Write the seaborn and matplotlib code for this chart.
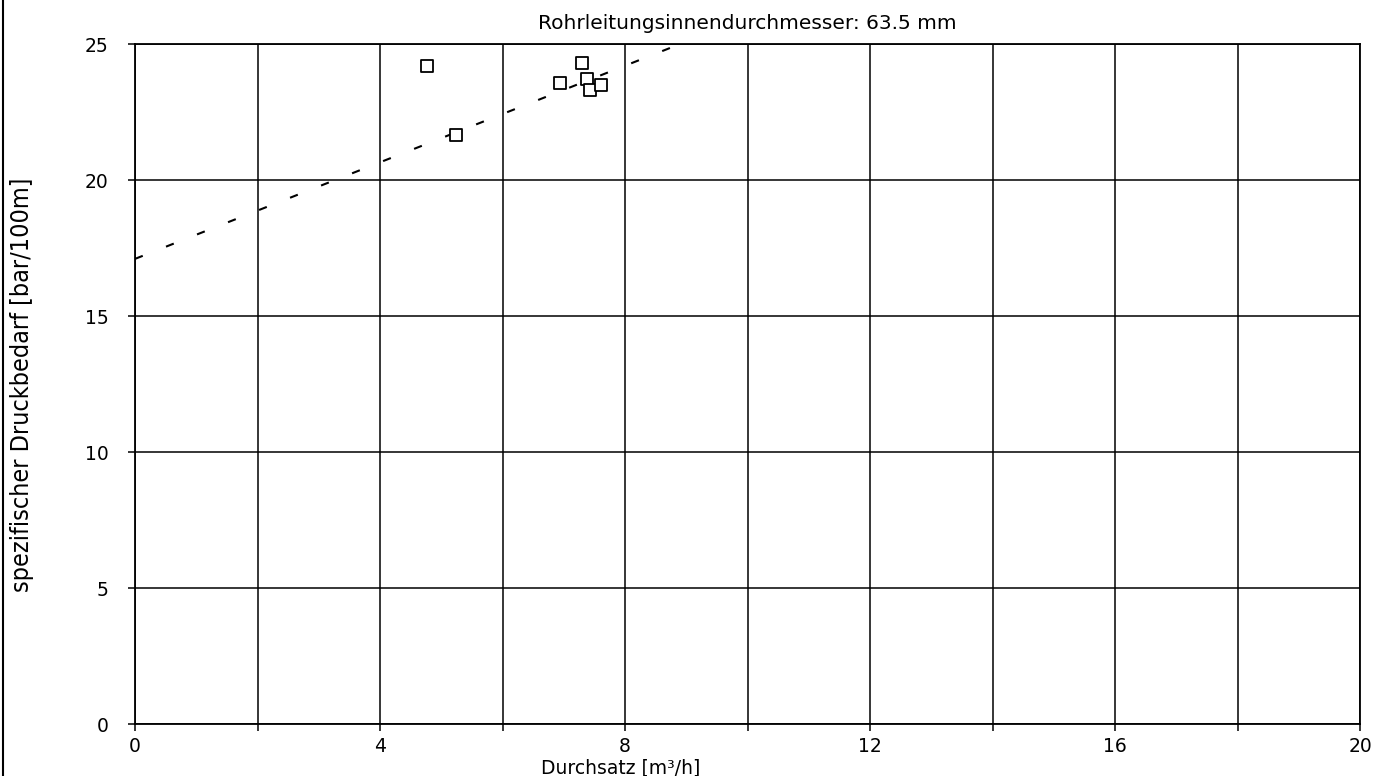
import matplotlib
matplotlib.use("Agg")
import matplotlib.pyplot as plt
import seaborn as sns
import pandas as pd
from matplotlib.lines import Line2D

# Data
durchsatz = [4.77, 5.24, 6.94, 7.29, 7.38, 7.43, 7.60]
druckbedarf = [24.2, 21.65, 23.55, 24.3, 23.7, 23.3, 23.5]
fit_x = [0.0, 8.9]
fit_y = [17.1, 25.0]
x_ticks = [0, 2, 4, 6, 8, 10, 12, 14, 16, 18, 20]
x_tick_labels = ["0", "", "4", "", "8", "", "12", "", "16", "", "20"]
y_ticks = [0, 5, 10, 15, 20, 25]
y_tick_labels = ["0", "5", "10", "15", "20", "25"]

sns.set_style("white")
plt.rcParams["font.family"] = ["DejaVu Sans"]
plt.rcParams["text.color"] = "black"
plt.rcParams["xtick.color"] = "black"
plt.rcParams["ytick.color"] = "black"

fig = plt.figure(figsize=(13.83, 7.76), dpi=100)
ax = fig.add_axes([135/1383, 1-724/776, (1360-135)/1383, (724-44)/776])

pts = pd.DataFrame({"x": durchsatz, "y": druckbedarf})
fit = pd.DataFrame({"x": fit_x, "y": fit_y})

sns.lineplot(data=fit, x="x", y="y", ax=ax, color="black", linewidth=1.5,
             zorder=3)
ax.lines[-1].set_dashes([4, 12])
sns.scatterplot(data=pts, x="x", y="y", ax=ax, marker="s", s=75,
                facecolor="white", edgecolor="black", linewidth=1.3,
                zorder=4)

ax.set_xlim(0, 20)
ax.set_ylim(0, 25)
ax.set_xticks(x_ticks)
ax.set_xticklabels(x_tick_labels)
ax.set_yticks(y_ticks)
ax.set_yticklabels(y_tick_labels)
ax.grid(True, color="black", linewidth=1.1)
ax.set_axisbelow(True)
for s in ax.spines.values():
    s.set_color("black")
    s.set_linewidth(1.3)
ax.tick_params(axis="both", direction="out", length=5, width=1.1,
               color="black", labelcolor="black", labelsize=13.5,
               bottom=True, left=True)
ax.tick_params(axis="x", pad=4)
ax.tick_params(axis="y", pad=14)
ax.set_xlabel("")
ax.set_ylabel("")

fig.text(621/1383, 1-768/776, "Durchsatz [m³/h]", ha="center", va="center",
         fontsize=13.5)
fig.text(22/1383, 1-385/776, "spezifischer Druckbedarf [bar/100m]",
         rotation=90, ha="center", va="center", fontsize=18,
         family="DejaVu Sans", fontstretch="condensed")
ax.set_title("Rohrleitungsinnendurchmesser: 63.5 mm", fontsize=14.5, pad=11)

fig.add_artist(Line2D([3/1383, 3/1383], [0, 1], transform=fig.transFigure,
                      color="black", linewidth=1.5))

fig.savefig("out.png", dpi=100)
